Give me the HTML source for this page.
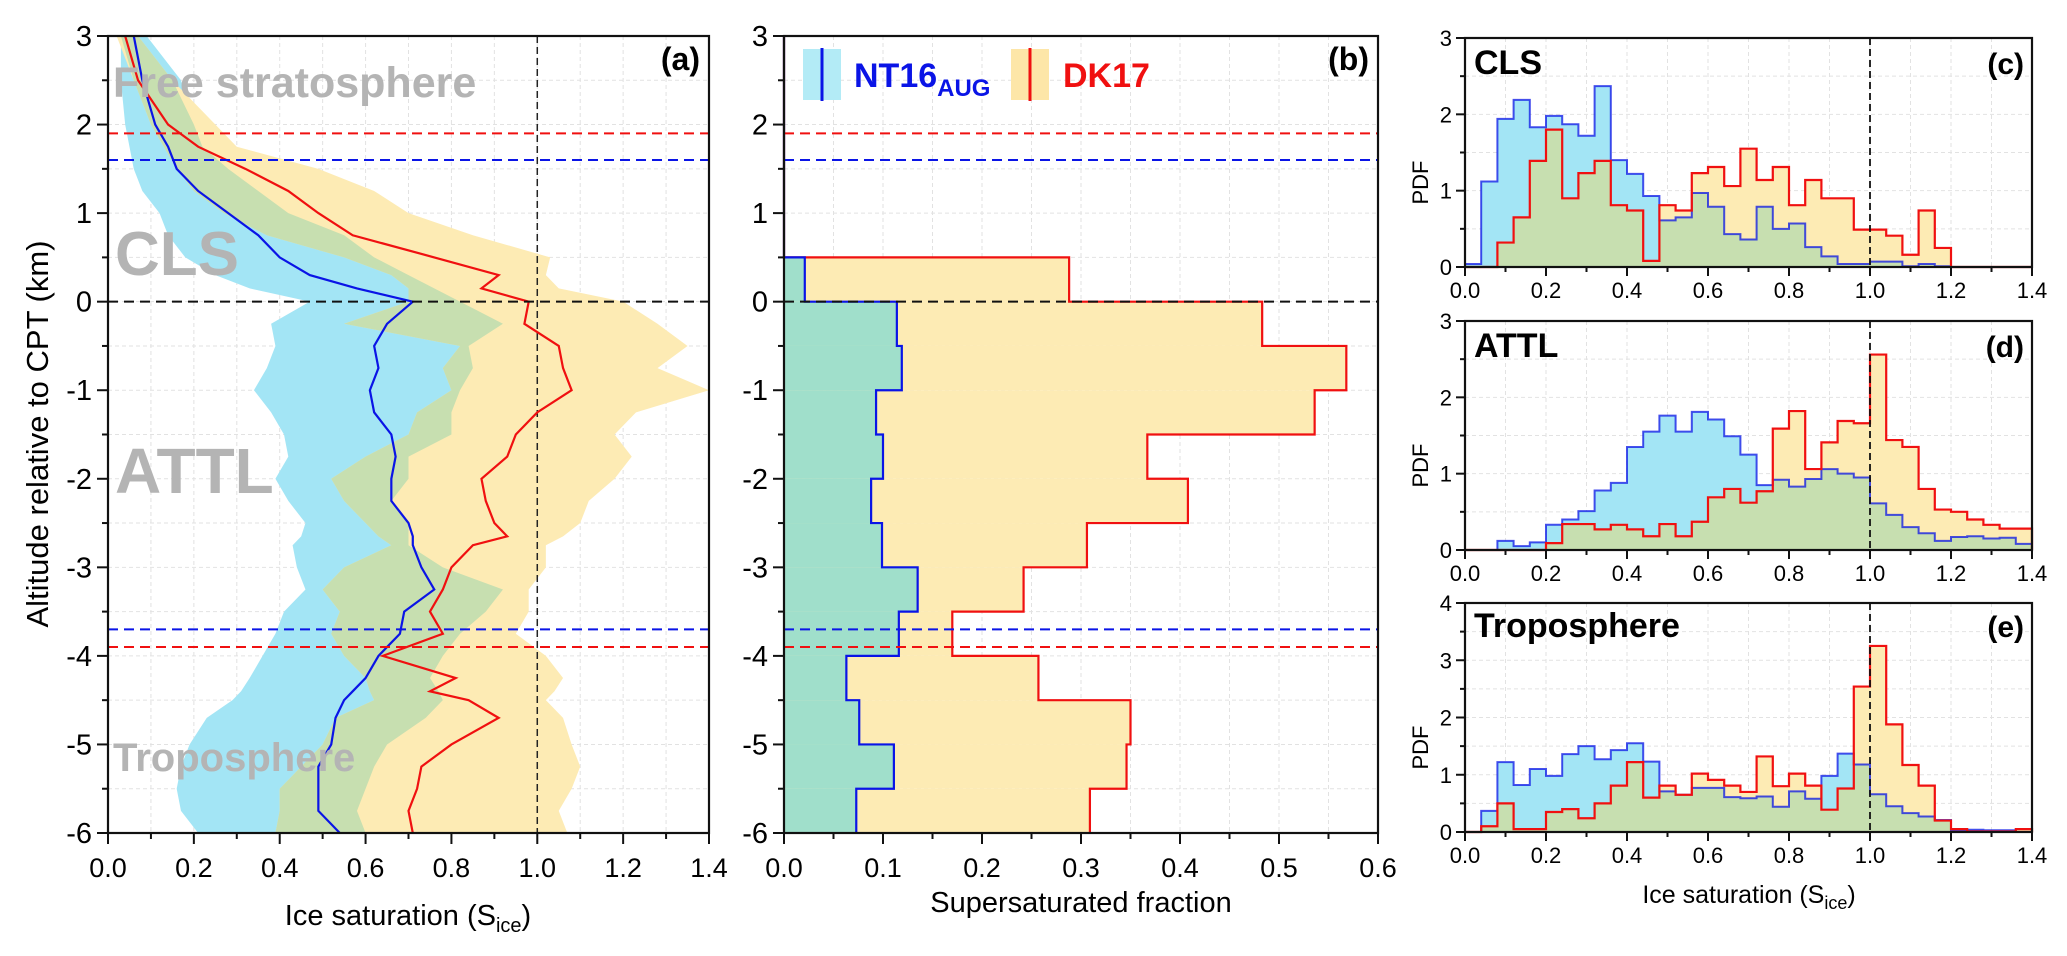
<!DOCTYPE html>
<html><head><meta charset="utf-8"><style>
html,body{margin:0;padding:0;background:#fff;}
svg{display:block;font-family:"Liberation Sans",Arial,sans-serif;}
</style></head><body>
<svg id="fig" width="2067" height="956" viewBox="0 0 2067 956" xmlns="http://www.w3.org/2000/svg"></svg>
<script>
// ---------- Panel (a) data ----------
const altA=[3,2.5,2,1.75,1.5,1.25,1,0.75,0.5,0.3,0.15,0,-0.25,-0.5,-0.75,-1,-1.25,-1.5,-1.75,-2,-2.25,-2.5,-2.65,-2.75,-3,-3.25,-3.5,-3.75,-4,-4.25,-4.4,-4.5,-4.7,-5,-5.25,-5.5,-5.75,-6];
const blueMed=[0.06,0.08,0.11,0.14,0.16,0.21,0.28,0.35,0.40,0.47,0.58,0.71,0.65,0.62,0.63,0.61,0.62,0.66,0.67,0.66,0.66,0.70,0.71,0.71,0.73,0.76,0.69,0.68,0.63,0.60,0.57,0.55,0.53,0.52,0.49,0.49,0.49,0.54];
const redMed=[0.04,0.07,0.14,0.21,0.32,0.42,0.49,0.57,0.76,0.91,0.87,0.98,0.97,1.05,1.06,1.08,1.00,0.95,0.93,0.87,0.88,0.90,0.93,0.85,0.80,0.78,0.75,0.78,0.64,0.81,0.75,0.84,0.91,0.80,0.73,0.72,0.70,0.71];
const blueLo=[0.03,0.03,0.04,0.05,0.06,0.08,0.12,0.14,0.18,0.25,0.33,0.47,0.38,0.39,0.37,0.34,0.38,0.41,0.42,0.39,0.42,0.46,0.45,0.43,0.44,0.46,0.41,0.39,0.36,0.33,0.31,0.29,0.23,0.19,0.17,0.16,0.17,0.21];
const blueUp=[0.09,0.17,0.20,0.22,0.28,0.35,0.42,0.55,0.62,0.70,0.76,0.82,0.92,0.84,0.85,0.82,0.80,0.80,0.70,0.70,0.66,0.70,0.70,0.70,0.78,0.92,0.88,0.82,0.78,0.75,0.77,0.78,0.74,0.65,0.62,0.60,0.58,0.60];
const redLo=[0.02,0.06,0.10,0.13,0.16,0.20,0.27,0.37,0.55,0.66,0.70,0.70,0.55,0.82,0.78,0.80,0.72,0.70,0.60,0.52,0.55,0.60,0.63,0.66,0.55,0.50,0.54,0.52,0.55,0.60,0.61,0.62,0.53,0.50,0.45,0.40,0.40,0.39];
const redUp=[0.07,0.15,0.25,0.30,0.49,0.62,0.70,0.85,1.03,1.02,1.05,1.20,1.28,1.35,1.28,1.40,1.23,1.18,1.22,1.18,1.12,1.10,1.06,1.02,1.02,0.98,0.98,0.95,1.02,1.06,1.04,1.02,1.06,1.08,1.10,1.08,1.05,1.07];
// ---------- Panel (b) data ----------
const binTopB=[0.5,0,-0.5,-1,-1.5,-2,-2.5,-3,-3.5,-4,-4.5,-5,-5.5];
const fracBlue=[0.021,0.114,0.119,0.093,0.100,0.088,0.099,0.135,0.116,0.063,0.076,0.111,0.073];
const fracRed=[0.288,0.483,0.568,0.536,0.367,0.408,0.306,0.242,0.170,0.257,0.350,0.346,0.309];
// ---------- Panels (c)-(e) data (bins of 0.04 from 0 to 1.4) ----------
const binWidth=0.04;
const clsBlue=[0.04,1.12,1.94,2.19,1.83,1.98,1.87,1.72,2.37,1.40,1.22,0.93,0.61,0.65,0.97,0.79,0.43,0.36,0.79,0.50,0.57,0.26,0.14,0.04,0.04,0.07,0.07,0.01,0.04,0.01,0,0,0,0,0];
const clsRed=[0,0,0.32,0.65,1.39,1.80,0.90,1.23,1.39,0.81,0.74,0.08,0.81,0.74,1.23,1.31,1.06,1.55,1.14,1.31,0.81,1.14,0.90,0.90,0.49,0.49,0.41,0.16,0.74,0.25,0,0,0,0,0];
const attlBlue=[0,0,0.12,0.05,0.10,0.33,0.40,0.51,0.78,0.88,1.35,1.55,1.76,1.55,1.81,1.71,1.49,1.25,0.85,0.92,0.83,0.93,1.06,1.00,0.95,0.61,0.46,0.30,0.22,0.12,0.17,0.18,0.15,0.16,0.08];
const attlRed=[0,0,0,0,0,0.09,0.34,0.34,0.27,0.33,0.27,0.18,0.34,0.18,0.37,0.69,0.80,0.62,0.77,1.59,1.82,1.06,1.41,1.69,1.66,2.56,1.44,1.35,0.80,0.53,0.50,0.40,0.33,0.28,0.28];
const tropBlue=[0,0.37,1.22,0.82,1.10,0.98,1.36,1.50,1.27,1.43,1.55,1.23,0.71,0.65,0.77,0.77,0.61,0.59,0.62,0.44,0.71,0.58,0.98,1.37,1.18,0.66,0.45,0.33,0.27,0.21,0.03,0.04,0.03,0.03,0];
const tropRed=[0,0.10,0.50,0.05,0.05,0.35,0.40,0.24,0.50,0.81,1.22,0.60,0.81,0.65,1.02,0.91,0.81,0.70,1.32,0.80,1.02,0.81,0.39,0.76,2.54,3.25,1.88,1.17,0.81,0.20,0.05,0.01,0.01,0.01,0.05];
const xTicksA=["0.0","0.2","0.4","0.6","0.8","1.0","1.2","1.4"];
const yTicksA=["3","2","1","0","-1","-2","-3","-4","-5","-6"];
const xTicksB=["0.0","0.1","0.2","0.3","0.4","0.5","0.6"];

const NS="http://www.w3.org/2000/svg";
const svg=document.getElementById('fig');
function mk(tag,attrs,parent,text){const e=document.createElementNS(NS,tag);for(const k in attrs)e.setAttribute(k,attrs[k]);if(text!==undefined)e.textContent=text;(parent||svg).appendChild(e);return e;}
const CYAN="#a3e5f5",YEL="#fdebb4",GRN="#c7dfb0",TEAL="#a0dfcb";

function grid(g,x0,x1,y0,y1,xs,ys){
  xs.forEach(x=>mk('line',{x1:x,x2:x,y1:y0,y2:y1,stroke:'#e2e2e2','stroke-width':1,'stroke-dasharray':'4,3'},g));
  ys.forEach(y=>mk('line',{x1:x0,x2:x1,y1:y,y2:y,stroke:'#e2e2e2','stroke-width':1,'stroke-dasharray':'4,3'},g));
}

// ================= Panel A =================
const A={x0:108,x1:709,y0:36,y1:833};
const ax=v=>A.x0+v*(A.x1-A.x0)/1.4;
const ay=z=>A.y0+(3-z)*(A.y1-A.y0)/9;
const gA=mk('g',{});


{
  const xs=[],ys=[];for(let i=1;i<14;i++)xs.push(ax(i*0.1));for(let i=1;i<18;i++)ys.push(ay(3-i*0.5));
  grid(gA,A.x0,A.x1,A.y0,A.y1,xs,ys);
  const band=(lo,up,fill,name)=>{let p=altA.map((z,i)=>ax(lo[i])+','+ay(z));for(let i=altA.length-1;i>=0;i--)p.push(ax(up[i])+','+ay(altA[i]));const e=mk('polygon',{points:p.join(' '),fill:fill},gA);};
  band(blueLo,blueUp,CYAN,'nt16-range-band');
  band(redLo,redUp,YEL,'dk17-range-band');
  const glo=altA.map((z,i)=>Math.max(blueLo[i],redLo[i])),gup=altA.map((z,i)=>Math.max(Math.max(blueLo[i],redLo[i]),Math.min(blueUp[i],redUp[i])));
  band(glo,gup,GRN,'overlap-band');
  const vl=mk('line',{x1:ax(1),x2:ax(1),y1:A.y0,y2:A.y1,stroke:'#222','stroke-width':1.5,'stroke-dasharray':'7,4'},gA);
  
  const ln=(arr,col,name)=>{const e=mk('polyline',{points:altA.map((z,i)=>ax(arr[i])+','+ay(z)).join(' '),fill:'none',stroke:col,'stroke-width':2.2},gA);};
  ln(blueMed,'#0a14e6','nt16-median-line');
  ln(redMed,'#f01010','dk17-median-line');
}
[["Free stratosphere",113,97,43],["CLS",115,275,62],["ATTL",115,493,64],["Troposphere",113,771,40]].forEach(t=>{const e=mk('text',{x:t[1],y:t[2],'font-size':t[3],'font-weight':'bold',fill:'#b4b4b4'},svg,t[0]);});

function hlines(g,x0,x1,yf){
  [[1.9,'#f01010'],[1.6,'#0a14e6'],[0,'#111'],[-3.7,'#0a14e6'],[-3.9,'#f01010']].forEach(h=>{const e=mk('line',{x1:x0,x2:x1,y1:yf(h[0]),y2:yf(h[0]),stroke:h[1],'stroke-width':2,'stroke-dasharray':'10,6'},g);});
}
hlines(gA,A.x0,A.x1,ay);

function frame(x0,x1,y0,y1,name){const e=mk('rect',{x:x0,y:y0,width:x1-x0,height:y1-y0,fill:'none',stroke:'#111','stroke-width':2.2});}
frame(A.x0,A.x1,A.y0,A.y1,'panel-a-frame');
for(let i=0;i<=14;i++){const x=ax(i*0.1);mk('line',{x1:x,x2:x,y1:A.y1,y2:A.y1+(i%2?6:11),stroke:'#111','stroke-width':2});}
xTicksA.forEach((t,i)=>{const e=mk('text',{x:ax(i*0.2),y:877,'font-size':27,'text-anchor':'middle'},svg,t);});
for(let i=0;i<=18;i++){const y=ay(3-i*0.5);mk('line',{x1:A.x0,x2:A.x0-(i%2?6:11),y1:y,y2:y,stroke:'#111','stroke-width':2});}
yTicksA.forEach((t,i)=>{const e=mk('text',{x:92,y:ay(3-i)+10,'font-size':29,'text-anchor':'end'},svg,t);});
{const e=mk('text',{x:0,y:0,'font-size':31,'text-anchor':'middle',transform:'translate(48,434) rotate(-90)'},svg,'Altitude relative to CPT (km)');}
{const e=mk('text',{x:408,y:925,'font-size':29,'text-anchor':'middle'},svg);
 mk('tspan',{},e,'Ice saturation (S');mk('tspan',{'font-size':20,dy:7},e,'ice');mk('tspan',{dy:-7},e,')');}
{const e=mk('text',{x:700,y:70,'font-size':32,'font-weight':'bold','text-anchor':'end'},svg,'(a)');}

// ================= Panel B =================
const B={x0:784,x1:1378,y0:36,y1:833};
const bx=v=>B.x0+v*(B.x1-B.x0)/0.6;
const by=z=>B.y0+(3-z)*(B.y1-B.y0)/9;
const gB=mk('g',{});


{
  const xs=[],ys=[];for(let i=1;i<12;i++)xs.push(bx(i*0.05));for(let i=1;i<18;i++)ys.push(by(3-i*0.5));
  grid(gB,B.x0,B.x1,B.y0,B.y1,xs,ys);
  binTopB.forEach((zt,i)=>{const e=mk('rect',{x:bx(0),y:by(zt),width:bx(fracRed[i])-bx(0),height:by(zt-0.5)-by(zt),fill:YEL},gB);});
  binTopB.forEach((zt,i)=>{const e=mk('rect',{x:bx(0),y:by(zt),width:bx(Math.min(fracBlue[i],fracRed[i]))-bx(0),height:by(zt-0.5)-by(zt),fill:TEAL},gB);});
  const step=(arr,col,name)=>{let p=[bx(0)+','+by(3),bx(0)+','+by(binTopB[0])];binTopB.forEach((zt,i)=>{p.push(bx(arr[i])+','+by(zt));p.push(bx(arr[i])+','+by(zt-0.5));});const e=mk('polyline',{points:p.join(' '),fill:'none',stroke:col,'stroke-width':2.2},gB);};
  step(fracRed,'#f01010','dk17-fraction-step');
  step(fracBlue,'#0a14e6','nt16-fraction-step');
}
hlines(gB,B.x0,B.x1,by);
frame(B.x0,B.x1,B.y0,B.y1,'panel-b-frame');
for(let i=0;i<=12;i++){const x=bx(i*0.05);mk('line',{x1:x,x2:x,y1:B.y1,y2:B.y1+(i%2?6:11),stroke:'#111','stroke-width':2});}
xTicksB.forEach((t,i)=>{const e=mk('text',{x:bx(i*0.1),y:877,'font-size':27,'text-anchor':'middle'},svg,t);});
for(let i=0;i<=18;i++){const y=by(3-i*0.5);mk('line',{x1:B.x0,x2:B.x0-(i%2?6:11),y1:y,y2:y,stroke:'#111','stroke-width':2});}
yTicksA.forEach((t,i)=>{const e=mk('text',{x:768,y:by(3-i)+10,'font-size':29,'text-anchor':'end'},svg,t);});
{const e=mk('text',{x:1081,y:912,'font-size':29,'text-anchor':'middle'},svg,'Supersaturated fraction');}
{const e=mk('text',{x:1369,y:70,'font-size':32,'font-weight':'bold','text-anchor':'end'},svg,'(b)');}
{const g=mk('g',{});
 const l1=mk('g',{},g);
 mk('rect',{x:803,y:49,width:38,height:51,fill:'#b3ebf6'},l1);mk('line',{x1:822,x2:822,y1:48,y2:101,stroke:'#0a14e6','stroke-width':3},l1);
 const t1=mk('text',{x:854,y:87,'font-size':34,'font-weight':'bold',fill:'#0a14e6'},l1);mk('tspan',{},t1,'NT16');mk('tspan',{'font-size':24,dy:9},t1,'AUG');
 const l2=mk('g',{},g);
 mk('rect',{x:1011,y:49,width:38,height:51,fill:'#fde6a8'},l2);mk('line',{x1:1030,x2:1030,y1:48,y2:101,stroke:'#f01010','stroke-width':3},l2);
 mk('text',{x:1063,y:87,'font-size':34,'font-weight':'bold',fill:'#f01010'},l2,'DK17');
}

// ================= Panels C, D, E =================
function hist(P){
  const X0=1465,X1=2032;
  const hx=v=>X0+v*(X1-X0)/1.4;
  const hy=v=>P.y1-v*(P.y1-P.y0)/P.ymax;
  const g=mk('g',{});
  
  
  const xs=[],ys=[];for(let i=1;i<14;i++)xs.push(hx(i*0.1));for(let i=1;i<P.ymax*2;i++)ys.push(hy(i*0.5));
  grid(g,X0,X1,P.y0,P.y1,xs,ys);
  const area=(vals,fill,name)=>{let p=[hx(0)+','+hy(0)];vals.forEach((v,i)=>{p.push(hx(i*binWidth)+','+hy(v));p.push(hx((i+1)*binWidth)+','+hy(v));});p.push(hx(vals.length*binWidth)+','+hy(0));const e=mk('polygon',{points:p.join(' '),fill:fill},g);};
  area(P.blue,CYAN,'nt16-histogram-fill');
  area(P.red,YEL,'dk17-histogram-fill');
  area(P.blue.map((v,i)=>Math.min(v,P.red[i])),GRN,'overlap-histogram-fill');
  const step=(vals,col,w,op,name)=>{let p=[hx(0)+','+hy(0)];vals.forEach((v,i)=>{p.push(hx(i*binWidth)+','+hy(v));p.push(hx((i+1)*binWidth)+','+hy(v));});p.push(hx(vals.length*binWidth)+','+hy(0));const e=mk('polyline',{points:p.join(' '),fill:'none',stroke:col,'stroke-width':w,'stroke-opacity':op},g);};
  step(P.blue,'#0a14e6',2,0.75,'nt16-histogram-step');
  step(P.red,'#f01010',2.2,1,'dk17-histogram-step');
  mk('line',{x1:hx(1),x2:hx(1),y1:P.y0,y2:P.y1,stroke:'#111','stroke-width':1.8,'stroke-dasharray':'7,4'},g);
  frame(X0,X1,P.y0,P.y1,P.name+'-frame');
  for(let i=0;i<=14;i++){const x=hx(i*0.1);mk('line',{x1:x,x2:x,y1:P.y1,y2:P.y1+(i%2?5:9),stroke:'#111','stroke-width':2});}
  xTicksA.forEach((t,i)=>{const e=mk('text',{x:hx(i*0.2),y:P.y1+31,'font-size':22,'text-anchor':'middle'},svg,t);});
  for(let i=0;i<=P.ymax*2;i++){const y=hy(i*0.5);mk('line',{x1:X0,x2:X0-(i%2?5:9),y1:y,y2:y,stroke:'#111','stroke-width':2});}
  for(let i=0;i<=P.ymax;i++){const e=mk('text',{x:1452,y:hy(i)+8,'font-size':22,'text-anchor':'end'},svg,String(i));}
  {const e=mk('text',{x:0,y:0,'font-size':22,'text-anchor':'middle',transform:`translate(1428,${(P.y0+P.y1)/2+30}) rotate(-90)`},svg,'PDF');}
  {const e=mk('text',{x:1474,y:P.ty,'font-size':34,'font-weight':'bold'},svg,P.title);}
  {const e=mk('text',{x:2024,y:P.ty,'font-size':30,'font-weight':'bold','text-anchor':'end'},svg,P.label);}
}
hist({name:'panel-c',y0:38,y1:267,ymax:3,blue:clsBlue,red:clsRed,title:'CLS',label:'(c)',ty:74});
hist({name:'panel-d',y0:321,y1:550,ymax:3,blue:attlBlue,red:attlRed,title:'ATTL',label:'(d)',ty:357});
hist({name:'panel-e',y0:603,y1:832,ymax:4,blue:tropBlue,red:tropRed,title:'Troposphere',label:'(e)',ty:637});
{const e=mk('text',{x:1749,y:903,'font-size':25,'text-anchor':'middle'},svg);
 mk('tspan',{},e,'Ice saturation (S');mk('tspan',{'font-size':18,dy:6},e,'ice');mk('tspan',{dy:-6},e,')');}
</script>
</body></html>
